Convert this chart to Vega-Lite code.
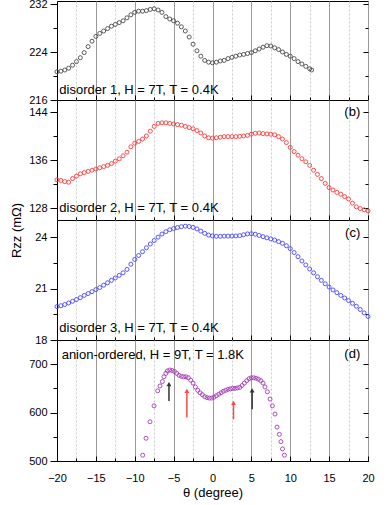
{
  "$schema": "https://vega.github.io/schema/vega-lite/v6.json",
  "padding": {"left": 9, "top": -3, "right": 5, "bottom": 2},
  "spacing": 0,
  "bounds": "flush",
  "config": {
    "view": {"stroke": "black", "strokeWidth": 1},
    "font": "Liberation Sans",
    "axis": {"domainColor": "black", "tickColor": "black", "labelColor": "black", "labelFont": "Liberation Sans", "labelFontSize": 11, "titleFont": "Liberation Sans", "titleFontSize": 13, "titleFontWeight": "normal", "titleColor": "black", "domainWidth": 1, "tickWidth": 1, "labelFlush": false},
    "concat": {"spacing": 0}
  },
  "datasets": {
    "p1": [
      {"t": -20, "r": 220.7}, {"t": -19.5, "r": 220.8}, {"t": -19, "r": 221.0}, {"t": -18.5, "r": 221.3}, {"t": -18, "r": 221.8}, {"t": -17.5, "r": 222.4}, {"t": -17, "r": 223.05}, {"t": -16.5, "r": 223.9}, {"t": -16, "r": 224.9}, {"t": -15.5, "r": 225.8}, {"t": -15, "r": 226.6}, {"t": -14.5, "r": 227.1}, {"t": -14, "r": 227.5}, {"t": -13.5, "r": 227.9}, {"t": -13, "r": 228.3}, {"t": -12.5, "r": 228.6}, {"t": -12, "r": 228.9}, {"t": -11.5, "r": 229.2}, {"t": -11, "r": 229.7}, {"t": -10.5, "r": 230.2}, {"t": -10, "r": 230.6}, {"t": -9.5, "r": 230.8}, {"t": -9, "r": 230.8}, {"t": -8.5, "r": 230.9}, {"t": -8, "r": 231.1}, {"t": -7.5, "r": 231.2}, {"t": -7, "r": 231.0}, {"t": -6.5, "r": 230.6}, {"t": -6, "r": 229.9}, {"t": -5.5, "r": 229.5}, {"t": -5, "r": 229.2}, {"t": -4.5, "r": 228.8}, {"t": -4, "r": 228.2}, {"t": -3.5, "r": 227.5}, {"t": -3, "r": 226.5}, {"t": -2.5, "r": 225.3}, {"t": -2, "r": 224.2}, {"t": -1.5, "r": 223.3}, {"t": -1, "r": 222.6}, {"t": -0.5, "r": 222.3}, {"t": 0, "r": 222.2}, {"t": 0.5, "r": 222.3}, {"t": 1, "r": 222.5}, {"t": 1.5, "r": 222.6}, {"t": 2, "r": 222.9}, {"t": 2.5, "r": 223.1}, {"t": 3, "r": 223.3}, {"t": 3.5, "r": 223.5}, {"t": 4, "r": 223.6}, {"t": 4.5, "r": 223.75}, {"t": 5, "r": 223.9}, {"t": 5.5, "r": 224.2}, {"t": 6, "r": 224.5}, {"t": 6.5, "r": 224.8}, {"t": 7, "r": 225.05}, {"t": 7.5, "r": 225.0}, {"t": 8, "r": 224.7}, {"t": 8.5, "r": 224.4}, {"t": 9, "r": 224.0}, {"t": 9.5, "r": 223.6}, {"t": 10, "r": 223.3}, {"t": 10.5, "r": 222.9}, {"t": 11, "r": 222.4}, {"t": 11.5, "r": 222.0}, {"t": 12, "r": 221.6}, {"t": 12.5, "r": 221.2}, {"t": 12.75, "r": 221.0}
    ],
    "p2": [
      {"t": -20, "r": 132.7}, {"t": -19.5, "r": 132.6}, {"t": -19, "r": 132.4}, {"t": -18.5, "r": 132.3}, {"t": -18, "r": 132.9}, {"t": -17.5, "r": 133.3}, {"t": -17, "r": 133.7}, {"t": -16.5, "r": 133.9}, {"t": -16, "r": 134.1}, {"t": -15.5, "r": 134.3}, {"t": -15, "r": 134.5}, {"t": -14.5, "r": 134.7}, {"t": -14, "r": 134.9}, {"t": -13.5, "r": 135.1}, {"t": -13, "r": 135.4}, {"t": -12.5, "r": 135.8}, {"t": -12, "r": 136.2}, {"t": -11.5, "r": 136.7}, {"t": -11, "r": 137.3}, {"t": -10.5, "r": 138.2}, {"t": -10, "r": 138.8}, {"t": -9.5, "r": 139.1}, {"t": -9, "r": 139.5}, {"t": -8.5, "r": 140.0}, {"t": -8, "r": 140.8}, {"t": -7.5, "r": 141.6}, {"t": -7, "r": 142.1}, {"t": -6.5, "r": 142.2}, {"t": -6, "r": 142.2}, {"t": -5.5, "r": 142.1}, {"t": -5, "r": 142.0}, {"t": -4.5, "r": 141.9}, {"t": -4, "r": 141.8}, {"t": -3.5, "r": 141.6}, {"t": -3, "r": 141.4}, {"t": -2.5, "r": 141.2}, {"t": -2, "r": 140.9}, {"t": -1.5, "r": 140.5}, {"t": -1, "r": 140.0}, {"t": -0.5, "r": 139.7}, {"t": 0, "r": 139.65}, {"t": 0.5, "r": 139.7}, {"t": 1, "r": 139.8}, {"t": 1.5, "r": 139.9}, {"t": 2, "r": 139.9}, {"t": 2.5, "r": 139.9}, {"t": 3, "r": 139.9}, {"t": 3.5, "r": 139.95}, {"t": 4, "r": 140.0}, {"t": 4.5, "r": 140.1}, {"t": 5, "r": 140.3}, {"t": 5.5, "r": 140.45}, {"t": 6, "r": 140.5}, {"t": 6.5, "r": 140.4}, {"t": 7, "r": 140.35}, {"t": 7.5, "r": 140.3}, {"t": 8, "r": 140.2}, {"t": 8.5, "r": 139.9}, {"t": 9, "r": 139.5}, {"t": 9.5, "r": 138.9}, {"t": 10, "r": 138.1}, {"t": 10.5, "r": 137.4}, {"t": 11, "r": 136.8}, {"t": 11.5, "r": 136.2}, {"t": 12, "r": 135.7}, {"t": 12.5, "r": 135.1}, {"t": 13, "r": 134.3}, {"t": 13.5, "r": 133.6}, {"t": 14, "r": 132.9}, {"t": 14.5, "r": 132.1}, {"t": 15, "r": 131.4}, {"t": 15.5, "r": 131.0}, {"t": 16, "r": 130.6}, {"t": 16.5, "r": 130.3}, {"t": 17, "r": 129.9}, {"t": 17.5, "r": 129.5}, {"t": 18, "r": 128.8}, {"t": 18.5, "r": 128.2}, {"t": 19, "r": 127.9}, {"t": 19.5, "r": 127.7}, {"t": 20, "r": 127.5}
    ],
    "p3": [
      {"t": -20, "r": 19.95}, {"t": -19.5, "r": 20.0}, {"t": -19, "r": 20.07}, {"t": -18.5, "r": 20.16}, {"t": -18, "r": 20.26}, {"t": -17.5, "r": 20.36}, {"t": -17, "r": 20.47}, {"t": -16.5, "r": 20.6}, {"t": -16, "r": 20.71}, {"t": -15.5, "r": 20.82}, {"t": -15, "r": 20.94}, {"t": -14.5, "r": 21.06}, {"t": -14, "r": 21.2}, {"t": -13.5, "r": 21.34}, {"t": -13, "r": 21.48}, {"t": -12.5, "r": 21.62}, {"t": -12, "r": 21.77}, {"t": -11.5, "r": 21.92}, {"t": -11, "r": 22.12}, {"t": -10.5, "r": 22.42}, {"t": -10, "r": 22.7}, {"t": -9.5, "r": 22.93}, {"t": -9, "r": 23.15}, {"t": -8.5, "r": 23.38}, {"t": -8, "r": 23.6}, {"t": -7.5, "r": 23.8}, {"t": -7, "r": 24.0}, {"t": -6.5, "r": 24.18}, {"t": -6, "r": 24.32}, {"t": -5.5, "r": 24.43}, {"t": -5, "r": 24.5}, {"t": -4.5, "r": 24.56}, {"t": -4, "r": 24.61}, {"t": -3.5, "r": 24.64}, {"t": -3, "r": 24.62}, {"t": -2.5, "r": 24.57}, {"t": -2, "r": 24.48}, {"t": -1.5, "r": 24.35}, {"t": -1, "r": 24.22}, {"t": -0.5, "r": 24.12}, {"t": 0, "r": 24.07}, {"t": 0.5, "r": 24.05}, {"t": 1, "r": 24.05}, {"t": 1.5, "r": 24.06}, {"t": 2, "r": 24.06}, {"t": 2.5, "r": 24.06}, {"t": 3, "r": 24.07}, {"t": 3.5, "r": 24.09}, {"t": 4, "r": 24.14}, {"t": 4.5, "r": 24.19}, {"t": 5, "r": 24.2}, {"t": 5.5, "r": 24.17}, {"t": 6, "r": 24.1}, {"t": 6.5, "r": 24.03}, {"t": 7, "r": 23.96}, {"t": 7.5, "r": 23.9}, {"t": 8, "r": 23.83}, {"t": 8.5, "r": 23.74}, {"t": 9, "r": 23.64}, {"t": 9.5, "r": 23.5}, {"t": 10, "r": 23.33}, {"t": 10.5, "r": 23.1}, {"t": 11, "r": 22.86}, {"t": 11.5, "r": 22.61}, {"t": 12, "r": 22.38}, {"t": 12.5, "r": 22.14}, {"t": 13, "r": 21.92}, {"t": 13.5, "r": 21.69}, {"t": 14, "r": 21.48}, {"t": 14.5, "r": 21.28}, {"t": 15, "r": 21.09}, {"t": 15.5, "r": 20.92}, {"t": 16, "r": 20.76}, {"t": 16.5, "r": 20.6}, {"t": 17, "r": 20.45}, {"t": 17.5, "r": 20.3}, {"t": 18, "r": 20.14}, {"t": 18.5, "r": 19.97}, {"t": 19, "r": 19.78}, {"t": 19.5, "r": 19.58}, {"t": 20, "r": 19.37}
    ],
    "p4": [
      {"t": -8.98, "r": 512}, {"t": -8.55, "r": 547}, {"t": -8.04, "r": 581}, {"t": -7.52, "r": 614}, {"t": -7.05, "r": 645}, {"t": -6.75, "r": 655}, {"t": -6.45, "r": 664}, {"t": -6.24, "r": 674}, {"t": -6.0, "r": 681}, {"t": -5.8, "r": 686}, {"t": -5.5, "r": 688}, {"t": -5.2, "r": 687}, {"t": -4.9, "r": 685}, {"t": -4.6, "r": 681}, {"t": -4.3, "r": 677}, {"t": -4.0, "r": 675}, {"t": -3.7, "r": 674}, {"t": -3.4, "r": 674}, {"t": -3.1, "r": 672}, {"t": -2.8, "r": 667}, {"t": -2.5, "r": 661}, {"t": -2.2, "r": 653}, {"t": -1.9, "r": 646}, {"t": -1.6, "r": 641}, {"t": -1.3, "r": 637}, {"t": -1.0, "r": 633}, {"t": -0.7, "r": 631}, {"t": -0.4, "r": 630}, {"t": -0.1, "r": 630}, {"t": 0.2, "r": 632}, {"t": 0.5, "r": 635}, {"t": 0.8, "r": 638}, {"t": 1.1, "r": 641}, {"t": 1.4, "r": 644}, {"t": 1.7, "r": 646}, {"t": 2.0, "r": 648}, {"t": 2.3, "r": 649}, {"t": 2.6, "r": 650}, {"t": 2.9, "r": 650}, {"t": 3.2, "r": 651}, {"t": 3.5, "r": 652}, {"t": 3.8, "r": 656}, {"t": 4.1, "r": 661}, {"t": 4.4, "r": 666}, {"t": 4.7, "r": 670}, {"t": 5.0, "r": 672}, {"t": 5.3, "r": 672}, {"t": 5.6, "r": 671}, {"t": 5.9, "r": 669}, {"t": 6.2, "r": 666}, {"t": 6.5, "r": 661}, {"t": 6.75, "r": 653}, {"t": 7.05, "r": 643}, {"t": 7.4, "r": 628}, {"t": 7.7, "r": 614}, {"t": 8.04, "r": 597}, {"t": 8.3, "r": 570}, {"t": 8.6, "r": 555}, {"t": 8.8, "r": 540}, {"t": 9.0, "r": 525}, {"t": 9.25, "r": 512}
    ],
    "arrows": [
      {"t": -5.6, "lo": 624, "hi": 660, "head": 658.6, "kind": "black"},
      {"t": -3.3, "lo": 590, "hi": 646, "head": 645, "kind": "red"},
      {"t": 2.7, "lo": 586, "hi": 621, "head": 620, "kind": "red"},
      {"t": 5.1, "lo": 607, "hi": 647, "head": 645.8, "kind": "black"}
    ]
  },
  "vconcat": [
    {
      "width": 311, "height": 99,
      "layer": [
        {
          "data": {"name": "p1"},
          "mark": {"type": "point", "shape": "circle", "filled": false, "size": 16, "strokeWidth": 0.9, "color": "#4a4a4a", "opacity": 1},
          "encoding": {
            "x": {"field": "t", "type": "quantitative", "scale": {"domain": [-20, 20], "nice": false, "zero": false},
              "axis": {"title": null, "labels": false, "values": [-20, -17.5, -15, -12.5, -10, -7.5, -5, -2.5, 0, 2.5, 5, 7.5, 10, 12.5, 15, 17.5, 20], "tickSize": {"condition": {"test": "datum.value % 5 === 0", "value": -5}, "value": -3}, "grid": true, "gridColor": {"condition": {"test": "datum.value % 5 === 0", "value": "#9a9a9a"}, "value": "#cccccc"}, "gridDash": {"condition": {"test": "datum.value % 5 === 0", "value": []}, "value": [2, 2]}}},
            "y": {"field": "r", "type": "quantitative", "scale": {"domain": [216, 232.5], "nice": false, "zero": false},
              "axis": {"title": null, "grid": false, "values": [216, 220, 224, 228, 232], "labelExpr": "datum.value % 8 === 0 ? datum.label : ''",
                "tickSize": {"condition": {"test": "datum.value % 8 === 0", "value": 7}, "value": 4}, "labelPadding": 3}}
          }
        },
        {
          "data": {"values": [{"label": "disorder 1, H = 7T, T = 0.4K"}]},
          "mark": {"type": "text", "align": "left", "baseline": "alphabetic", "fontSize": 13, "color": "black"},
          "encoding": {
            "x": {"datum": -19.7, "type": "quantitative",
              "axis": {"title": null, "labels": false, "values": [-20, -17.5, -15, -12.5, -10, -7.5, -5, -2.5, 0, 2.5, 5, 7.5, 10, 12.5, 15, 17.5, 20], "tickSize": {"condition": {"test": "datum.value % 5 === 0", "value": -5}, "value": -3}, "grid": true, "gridColor": {"condition": {"test": "datum.value % 5 === 0", "value": "#9a9a9a"}, "value": "#cccccc"}, "gridDash": {"condition": {"test": "datum.value % 5 === 0", "value": []}, "value": [2, 2]}}},
            "y": {"datum": 217, "type": "quantitative", "axis": {"orient": "right", "title": null, "labels": false, "grid": false, "domain": false, "values": [216, 220, 224, 228, 232],
              "tickSize": {"condition": {"test": "datum.value % 8 === 0", "value": -5}, "value": -3}}},
            "text": {"field": "label"}
          }
        }
      ],
      "resolve": {"axis": {"y": "independent"}}
    },
    {
      "width": 311, "height": 120,
      "layer": [
        {
          "data": {"name": "p2"},
          "mark": {"type": "point", "shape": "circle", "filled": false, "size": 16, "strokeWidth": 0.9, "color": "#ff3a3a", "opacity": 1},
          "encoding": {
            "x": {"field": "t", "type": "quantitative", "scale": {"domain": [-20, 20], "nice": false, "zero": false},
              "axis": {"title": null, "labels": false, "values": [-20, -17.5, -15, -12.5, -10, -7.5, -5, -2.5, 0, 2.5, 5, 7.5, 10, 12.5, 15, 17.5, 20], "tickSize": {"condition": {"test": "datum.value % 5 === 0", "value": -5}, "value": -3}, "grid": true, "gridColor": {"condition": {"test": "datum.value % 5 === 0", "value": "#9a9a9a"}, "value": "#cccccc"}, "gridDash": {"condition": {"test": "datum.value % 5 === 0", "value": []}, "value": [2, 2]}}},
            "y": {"field": "r", "type": "quantitative", "scale": {"domain": [126, 146], "nice": false, "zero": false},
              "axis": {"title": "Rzz (mΩ)", "titleY": 130, "titleX": -37, "titleAngle": -90, "titleAlign": "center", "titleBaseline": "alphabetic",
                "grid": false, "values": [128, 132, 136, 140, 144], "labelExpr": "datum.value % 8 === 0 ? datum.label : ''",
                "tickSize": {"condition": {"test": "datum.value % 8 === 0", "value": 7}, "value": 4}, "labelPadding": 3}}
          }
        },
        {
          "data": {"values": [{"label": "disorder 2, H = 7T, T = 0.4K"}]},
          "mark": {"type": "text", "align": "left", "baseline": "alphabetic", "fontSize": 13, "color": "black"},
          "encoding": {
            "x": {"datum": -19.7, "type": "quantitative",
              "axis": {"title": null, "labels": false, "values": [-20, -17.5, -15, -12.5, -10, -7.5, -5, -2.5, 0, 2.5, 5, 7.5, 10, 12.5, 15, 17.5, 20], "tickSize": {"condition": {"test": "datum.value % 5 === 0", "value": -5}, "value": -3}, "grid": true, "gridColor": {"condition": {"test": "datum.value % 5 === 0", "value": "#9a9a9a"}, "value": "#cccccc"}, "gridDash": {"condition": {"test": "datum.value % 5 === 0", "value": []}, "value": [2, 2]}}},
            "y": {"datum": 127.4, "type": "quantitative", "axis": {"orient": "right", "title": null, "labels": false, "grid": false, "domain": false, "values": [128, 132, 136, 140, 144],
              "tickSize": {"condition": {"test": "datum.value % 8 === 0", "value": -5}, "value": -3}}},
            "text": {"field": "label"}
          }
        },
        {
          "data": {"values": [{"tag": "(b)"}]},
          "mark": {"type": "text", "align": "right", "baseline": "alphabetic", "fontSize": 13, "color": "black"},
          "encoding": {
            "x": {"datum": 19, "type": "quantitative",
              "axis": {"title": null, "labels": false, "values": [-20, -17.5, -15, -12.5, -10, -7.5, -5, -2.5, 0, 2.5, 5, 7.5, 10, 12.5, 15, 17.5, 20], "tickSize": {"condition": {"test": "datum.value % 5 === 0", "value": -5}, "value": -3}, "grid": true, "gridColor": {"condition": {"test": "datum.value % 5 === 0", "value": "#9a9a9a"}, "value": "#cccccc"}, "gridDash": {"condition": {"test": "datum.value % 5 === 0", "value": []}, "value": [2, 2]}}},
            "y": {"datum": 143.3, "type": "quantitative", "axis": null},
            "text": {"field": "tag"}
          }
        }
      ],
      "resolve": {"axis": {"y": "independent"}}
    },
    {
      "width": 311, "height": 120,
      "layer": [
        {
          "data": {"name": "p3"},
          "mark": {"type": "point", "shape": "circle", "filled": false, "size": 16, "strokeWidth": 0.9, "color": "#4646ff", "opacity": 1},
          "encoding": {
            "x": {"field": "t", "type": "quantitative", "scale": {"domain": [-20, 20], "nice": false, "zero": false},
              "axis": {"title": null, "labels": false, "values": [-20, -17.5, -15, -12.5, -10, -7.5, -5, -2.5, 0, 2.5, 5, 7.5, 10, 12.5, 15, 17.5, 20], "tickSize": {"condition": {"test": "datum.value % 5 === 0", "value": -5}, "value": -3}, "grid": true, "gridColor": {"condition": {"test": "datum.value % 5 === 0", "value": "#9a9a9a"}, "value": "#cccccc"}, "gridDash": {"condition": {"test": "datum.value % 5 === 0", "value": []}, "value": [2, 2]}}},
            "y": {"field": "r", "type": "quantitative", "scale": {"domain": [18, 25], "nice": false, "zero": false},
              "axis": {"title": null, "grid": false, "values": [18, 19.5, 21, 22.5, 24], "labelExpr": "datum.value % 1 === 0 ? datum.label : ''",
                "tickSize": {"condition": {"test": "datum.value % 1 === 0", "value": 7}, "value": 4}, "labelPadding": 3}}
          }
        },
        {
          "data": {"values": [{"label": "disorder 3, H = 7T, T = 0.4K"}]},
          "mark": {"type": "text", "align": "left", "baseline": "alphabetic", "fontSize": 13, "color": "black"},
          "encoding": {
            "x": {"datum": -19.7, "type": "quantitative",
              "axis": {"title": null, "labels": false, "values": [-20, -17.5, -15, -12.5, -10, -7.5, -5, -2.5, 0, 2.5, 5, 7.5, 10, 12.5, 15, 17.5, 20], "tickSize": {"condition": {"test": "datum.value % 5 === 0", "value": -5}, "value": -3}, "grid": true, "gridColor": {"condition": {"test": "datum.value % 5 === 0", "value": "#9a9a9a"}, "value": "#cccccc"}, "gridDash": {"condition": {"test": "datum.value % 5 === 0", "value": []}, "value": [2, 2]}}},
            "y": {"datum": 18.47, "type": "quantitative", "axis": {"orient": "right", "title": null, "labels": false, "grid": false, "domain": false, "values": [18, 19.5, 21, 22.5, 24],
              "tickSize": {"condition": {"test": "datum.value % 1 === 0", "value": -5}, "value": -3}}},
            "text": {"field": "label"}
          }
        },
        {
          "data": {"values": [{"tag": "(c)"}]},
          "mark": {"type": "text", "align": "right", "baseline": "alphabetic", "fontSize": 13, "color": "black"},
          "encoding": {
            "x": {"datum": 19, "type": "quantitative",
              "axis": {"title": null, "labels": false, "values": [-20, -17.5, -15, -12.5, -10, -7.5, -5, -2.5, 0, 2.5, 5, 7.5, 10, 12.5, 15, 17.5, 20], "tickSize": {"condition": {"test": "datum.value % 5 === 0", "value": -5}, "value": -3}, "grid": true, "gridColor": {"condition": {"test": "datum.value % 5 === 0", "value": "#9a9a9a"}, "value": "#cccccc"}, "gridDash": {"condition": {"test": "datum.value % 5 === 0", "value": []}, "value": [2, 2]}}},
            "y": {"datum": 24.0, "type": "quantitative", "axis": null},
            "text": {"field": "tag"}
          }
        }
      ],
      "resolve": {"axis": {"y": "independent"}}
    },
    {
      "width": 311, "height": 121,
      "layer": [
        {
          "data": {"name": "p4"},
          "mark": {"type": "point", "shape": "circle", "filled": false, "size": 16, "strokeWidth": 0.9, "color": "#a43cb4", "opacity": 1},
          "encoding": {
            "x": {"field": "t", "type": "quantitative", "scale": {"domain": [-20, 20], "nice": false, "zero": false},
              "axis": {"title": "θ (degree)", "titlePadding": 3, "labelPadding": 16, "labelExpr": "datum.value % 5 === 0 ? datum.label : ''", "values": [-20, -17.5, -15, -12.5, -10, -7.5, -5, -2.5, 0, 2.5, 5, 7.5, 10, 12.5, 15, 17.5, 20], "tickSize": {"condition": {"test": "datum.value % 5 === 0", "value": -5}, "value": -3}, "grid": true, "gridColor": {"condition": {"test": "datum.value % 5 === 0", "value": "#9a9a9a"}, "value": "#cccccc"}, "gridDash": {"condition": {"test": "datum.value % 5 === 0", "value": []}, "value": [2, 2]}}},
            "y": {"field": "r", "type": "quantitative", "scale": {"domain": [500, 750], "nice": false, "zero": false},
              "axis": {"title": null, "grid": false, "values": [500, 550, 600, 650, 700], "labelExpr": "datum.value % 100 === 0 ? datum.label : ''",
                "tickSize": {"condition": {"test": "datum.value % 100 === 0", "value": 7}, "value": 4}, "labelPadding": 3}}
          }
        },
        {
          "data": {"name": "arrows"},
          "mark": {"type": "rule", "strokeWidth": 1.5},
          "encoding": {
            "x": {"field": "t", "type": "quantitative",
              "axis": {"title": "θ (degree)", "titlePadding": 3, "labelPadding": 16, "labelExpr": "datum.value % 5 === 0 ? datum.label : ''", "values": [-20, -17.5, -15, -12.5, -10, -7.5, -5, -2.5, 0, 2.5, 5, 7.5, 10, 12.5, 15, 17.5, 20], "tickSize": {"condition": {"test": "datum.value % 5 === 0", "value": -5}, "value": -3}, "grid": true, "gridColor": {"condition": {"test": "datum.value % 5 === 0", "value": "#9a9a9a"}, "value": "#cccccc"}, "gridDash": {"condition": {"test": "datum.value % 5 === 0", "value": []}, "value": [2, 2]}}},
            "y": {"field": "lo", "type": "quantitative", "axis": null},
            "y2": {"field": "hi"},
            "color": {"field": "kind", "type": "nominal", "scale": {"domain": ["black", "red"], "range": ["#333333", "#ff4a4a"]}, "legend": null}
          }
        },
        {
          "data": {"name": "arrows"},
          "mark": {"type": "point", "shape": "triangle-up", "filled": true, "size": 24, "opacity": 1},
          "encoding": {
            "x": {"field": "t", "type": "quantitative",
              "axis": {"title": "θ (degree)", "titlePadding": 3, "labelPadding": 16, "labelExpr": "datum.value % 5 === 0 ? datum.label : ''", "values": [-20, -17.5, -15, -12.5, -10, -7.5, -5, -2.5, 0, 2.5, 5, 7.5, 10, 12.5, 15, 17.5, 20], "tickSize": {"condition": {"test": "datum.value % 5 === 0", "value": -5}, "value": -3}, "grid": true, "gridColor": {"condition": {"test": "datum.value % 5 === 0", "value": "#9a9a9a"}, "value": "#cccccc"}, "gridDash": {"condition": {"test": "datum.value % 5 === 0", "value": []}, "value": [2, 2]}}},
            "y": {"field": "head", "type": "quantitative", "axis": null},
            "color": {"field": "kind", "type": "nominal", "scale": {"domain": ["black", "red"], "range": ["#333333", "#ff4a4a"]}, "legend": null}
          }
        },
        {
          "data": {"values": [{"label": "anion-ordered, H = 9T, T = 1.8K"}]},
          "mark": {"type": "text", "align": "left", "baseline": "alphabetic", "fontSize": 13, "color": "black"},
          "encoding": {
            "x": {"datum": -19.4, "type": "quantitative",
              "axis": {"title": "θ (degree)", "titlePadding": 3, "labelPadding": 16, "labelExpr": "datum.value % 5 === 0 ? datum.label : ''", "values": [-20, -17.5, -15, -12.5, -10, -7.5, -5, -2.5, 0, 2.5, 5, 7.5, 10, 12.5, 15, 17.5, 20], "tickSize": {"condition": {"test": "datum.value % 5 === 0", "value": -5}, "value": -3}, "grid": true, "gridColor": {"condition": {"test": "datum.value % 5 === 0", "value": "#9a9a9a"}, "value": "#cccccc"}, "gridDash": {"condition": {"test": "datum.value % 5 === 0", "value": []}, "value": [2, 2]}}},
            "y": {"datum": 710, "type": "quantitative", "axis": {"orient": "right", "title": null, "labels": false, "grid": false, "domain": false, "values": [500, 550, 600, 650, 700],
              "tickSize": {"condition": {"test": "datum.value % 100 === 0", "value": -5}, "value": -3}}},
            "text": {"field": "label"}
          }
        },
        {
          "data": {"values": [{"tag": "(d)"}]},
          "mark": {"type": "text", "align": "right", "baseline": "alphabetic", "fontSize": 13, "color": "black"},
          "encoding": {
            "x": {"datum": 19, "type": "quantitative",
              "axis": {"title": "θ (degree)", "titlePadding": 3, "labelPadding": 16, "labelExpr": "datum.value % 5 === 0 ? datum.label : ''", "values": [-20, -17.5, -15, -12.5, -10, -7.5, -5, -2.5, 0, 2.5, 5, 7.5, 10, 12.5, 15, 17.5, 20], "tickSize": {"condition": {"test": "datum.value % 5 === 0", "value": -5}, "value": -3}, "grid": true, "gridColor": {"condition": {"test": "datum.value % 5 === 0", "value": "#9a9a9a"}, "value": "#cccccc"}, "gridDash": {"condition": {"test": "datum.value % 5 === 0", "value": []}, "value": [2, 2]}}},
            "y": {"datum": 713.8, "type": "quantitative", "axis": null},
            "text": {"field": "tag"}
          }
        }
      ],
      "resolve": {"axis": {"y": "independent"}}
    }
  ]
}
